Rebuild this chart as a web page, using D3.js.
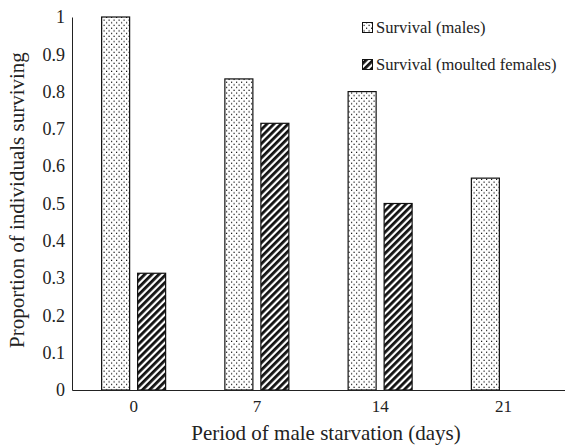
<!DOCTYPE html>
<html><head><meta charset="utf-8">
<script src="https://cdn.jsdelivr.net/npm/d3@7"></script>
<style>body{margin:0;background:#fff}svg{display:block}svg text{font-family:"Liberation Serif","Times New Roman",serif !important;fill:#222}</style>
</head><body><svg id="c" width="565" height="445"></svg>
<script>
const categories = ["0","7","14","21"];
const males = [1.0, 0.834, 0.80, 0.568];
const females = [0.313, 0.715, 0.50, 0];
const seriesNames = ["Survival (males)", "Survival (moulted females)"];
const yTicks = [0,0.1,0.2,0.3,0.4,0.5,0.6,0.7,0.8,0.9,1];

const FF = "'Liberation Serif', 'Times New Roman', serif";
const svg = d3.select("#c");
const m = {l:72, r:0, t:17, b:55};
const W = 565, H = 445;
const x = d3.scaleBand().domain(categories).range([m.l, W - m.r]);
const y = d3.scaleLinear().domain([0,1]).range([H - m.b, m.t]);

const defs = svg.append("defs");
const dots = defs.append("pattern").attr("id","dots").attr("patternUnits","userSpaceOnUse")
  .attr("width",5).attr("height",5.4);
dots.append("rect").attr("width",5).attr("height",5.4).attr("fill","#fff");
dots.append("rect").attr("x",1).attr("y",0.6).attr("width",1.2).attr("height",1.2).attr("fill","#111");
dots.append("rect").attr("x",3.5).attr("y",3.3).attr("width",1.2).attr("height",1.2).attr("fill","#111");
const hatch = defs.append("pattern").attr("id","hatch").attr("patternUnits","userSpaceOnUse")
  .attr("width",5).attr("height",5).attr("patternTransform","rotate(45)");
hatch.append("rect").attr("width",5).attr("height",5).attr("fill","#fff");
hatch.append("rect").attr("x",0).attr("y",0).attr("width",2.8).attr("height",5).attr("fill","#111");

const bw = 28, gap = 8;
const g = svg.append("g");
g.selectAll(".m").data(males).join("rect")
  .attr("x",(d,i)=>x(categories[i]) + x.bandwidth()/2 - bw - gap/2)
  .attr("y",d=>y(d)).attr("width",bw).attr("height",d=>y(0)-y(d))
  .attr("fill","url(#dots)").attr("stroke","#111").attr("stroke-width",1.2);
g.selectAll(".f").data(females.map((v,i)=>({v,i})).filter(d=>d.v>0)).join("rect")
  .attr("x",d=>x(categories[d.i]) + x.bandwidth()/2 + gap/2)
  .attr("y",d=>y(d.v)).attr("width",bw).attr("height",d=>y(0)-y(d.v))
  .attr("fill","url(#hatch)").attr("stroke","#111").attr("stroke-width",1.2);

// axes
const ya = svg.append("g").attr("transform",`translate(${m.l},0)`)
  .call(d3.axisLeft(y).tickValues(yTicks).tickSize(0).tickPadding(7).tickFormat(d=>d3.format("~g")(d)));
ya.attr("font-family",FF).attr("font-size",18);
ya.select(".domain").attr("stroke","#222");
ya.selectAll("text").attr("fill","#222").style("font-family",FF);
const xa = svg.append("g").attr("transform",`translate(0,${y(0)})`)
  .call(d3.axisBottom(x).tickSize(0).tickPadding(10));
xa.attr("font-family",FF).attr("font-size",17);
xa.select(".domain").attr("stroke","#222");
xa.selectAll("text").attr("fill","#222").style("font-family",FF);

svg.append("text").attr("transform","translate(24,200) rotate(-90)").attr("text-anchor","middle")
  .attr("font-family",FF).attr("font-size",21).text("Proportion of individuals surviving");
svg.append("text").attr("x",326).attr("y",440).attr("text-anchor","middle")
  .attr("font-family",FF).attr("font-size",21).text("Period of male starvation (days)");

// legend
const leg = svg.append("g");
[["url(#dots)",33],["url(#hatch)",70]].forEach((p,i)=>{
  leg.append("rect").attr("x",362.5).attr("y",p[1]-10.5).attr("width",10).attr("height",10)
    .attr("fill",p[0]).attr("stroke","#111");
  leg.append("text").attr("x",376).attr("y",p[1]).attr("font-family",FF).attr("font-size",16.5)
    .style("font-family",FF).text(seriesNames[i]);
});
</script></body></html>
